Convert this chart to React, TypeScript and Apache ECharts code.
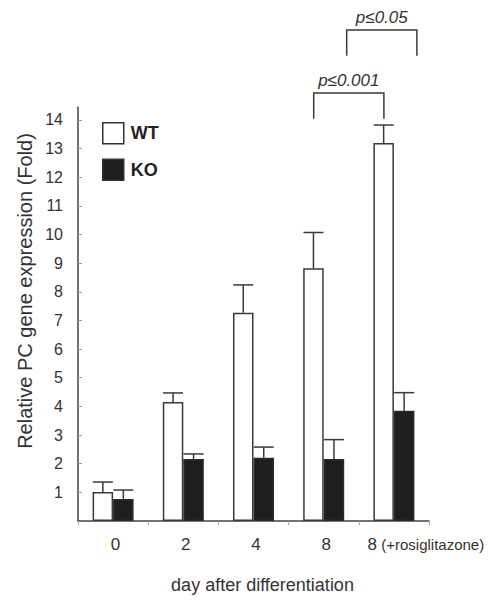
import React, { useEffect, useRef } from "react";
import * as echarts from "echarts";

const categories = ["0", "2", "4", "8", "8 (+rosiglitazone)"];
const wtValues = [1.01, 4.15, 7.27, 8.82, 13.19];
const wtErrors = [0.35, 0.32, 0.97, 1.25, 0.63];
const koValues = [0.77, 2.16, 2.21, 2.16, 3.85];
const koErrors = [0.31, 0.18, 0.37, 0.68, 0.63];
const yTickValues = [1, 2, 3, 4, 5, 6, 7, 8, 9, 10, 11, 12, 13, 14];
const bracketLabels = ["p≤0.001", "p≤0.05"];
const bracketFrom = [3, 3];
const bracketTo = [4, 4];
const bracketLegLow = [14.04, 16.24];
const bracketTop = [14.94, 17.14];

const FONT = "Liberation Sans, Arial, sans-serif";
const INK = "#333333";
const BAR_W = 20.5;
const BRACKET_SHIFT = [-10, 23];

export default function App() {
  const ref = useRef<HTMLDivElement>(null);
  useEffect(() => {
    if (!ref.current) return;
    const chart = echarts.init(ref.current, undefined, { renderer: "svg" });

    const errRender = (offset: number) => (params: any, api: any) => {
      const i = api.value(0);
      const v = api.value(1);
      const e = api.value(2);
      const base = api.coord([i, v]);
      const top = api.coord([i, v + e]);
      const cx = base[0] + offset;
      const style = { stroke: "#3a3a3a", lineWidth: 1.5 };
      return {
        type: "group",
        children: [
          { type: "line", shape: { x1: cx, y1: base[1], x2: cx, y2: top[1] }, style },
          { type: "line", shape: { x1: cx - 10, y1: top[1], x2: cx + 10, y2: top[1] }, style },
        ],
      };
    };

    const bracketData = bracketLabels.map((_, k) => [
      bracketFrom[k],
      bracketTo[k],
      bracketLegLow[k],
      bracketTop[k],
      k,
    ]);

    const option: any = {
      animation: false,
      backgroundColor: "#ffffff",
      textStyle: { fontFamily: FONT },
      grid: { left: 78, right: 71, top: 107, bottom: 79, containLabel: false, outerBoundsMode: "none" },
      legend: {
        data: ["WT", "KO"],
        orient: "vertical",
        left: 97,
        top: 117,
        itemWidth: 21,
        itemHeight: 21,
        itemGap: 14,
        icon: "rect",
        selectedMode: false,
        itemStyle: { borderColor: "#333", borderWidth: 1.5 },
        textStyle: { fontFamily: FONT, fontSize: 18, fontWeight: "bold", color: "#222", padding: [0, 0, 0, 2] },
      },
      xAxis: {
        type: "category",
        data: categories,
        axisLine: { lineStyle: { color: "#444", width: 1.5 } },
        axisTick: { show: true, length: 4, lineStyle: { color: "#aaa" } },
        axisLabel: {
          margin: 15,
          color: INK,
          fontSize: 17,
          fontFamily: FONT,
          interval: 0,
          formatter: (v: string) =>
            v.indexOf("(") >= 0
              ? "{q|}{a|" + v.split(" ")[0] + "}{b| " + v.substring(v.indexOf("(")) + "}"
              : "{p|}{a|" + v + "}",
          rich: {
            a: { fontSize: 17, fontFamily: FONT, color: INK },
            b: { fontSize: 15, fontFamily: FONT, color: INK },
            p: { width: 5 },
            q: { width: 64 },
          },
        },
        name: "day after differentiation",
        nameLocation: "middle",
        nameGap: 55,
        nameTextStyle: { fontSize: 18, color: INK, fontFamily: FONT, padding: [0, 0, 0, 18] },
      },
      yAxis: {
        type: "value",
        min: 0,
        max: 14.45,
        interval: 1,
        splitLine: { show: false },
        axisLine: { show: true, lineStyle: { color: "#444", width: 1.5 } },
        axisTick: { show: true, inside: true, length: 4, lineStyle: { color: "#999" }, customValues: yTickValues },
        axisLabel: {
          margin: 15,
          color: INK,
          fontSize: 16,
          fontFamily: FONT,
          customValues: yTickValues,
          formatter: (v: number) => (v === 0 || v > 14 ? "" : String(v)),
        },
      },
      graphic: [
        {
          type: "text",
          x: 25,
          y: 291,
          rotation: Math.PI / 2,
          style: {
            text: "Relative PC gene expression (Fold)",
            font: "20px " + FONT,
            fill: INK,
            textAlign: "center",
            textVerticalAlign: "middle",
          },
        },
      ],
      series: [
        {
          name: "WT",
          type: "bar",
          data: wtValues,
          barWidth: BAR_W,
          barGap: "0%",
          itemStyle: { color: "#ffffff", borderColor: "#3a3a3a", borderWidth: 1.5 },
        },
        {
          name: "KO",
          type: "bar",
          data: koValues,
          barWidth: BAR_W,
          barGap: "0%",
          itemStyle: { color: "#1e1e1e", borderColor: "#2a2a2a", borderWidth: 1.5 },
        },
        {
          name: "WT error",
          type: "custom",
          clip: false,
          z: 3,
          renderItem: errRender(-BAR_W / 2),
          data: wtValues.map((v, i) => [i, v, wtErrors[i]]),
          encode: { x: 0, y: 1 },
        },
        {
          name: "KO error",
          type: "custom",
          clip: false,
          z: 3,
          renderItem: errRender(BAR_W / 2),
          data: koValues.map((v, i) => [i, v, koErrors[i]]),
          encode: { x: 0, y: 1 },
        },
        {
          name: "brackets",
          type: "custom",
          clip: false,
          z: 4,
          renderItem: (params: any, api: any) => {
            const k = api.value(4);
            const shift = BRACKET_SHIFT[k];
            const a = api.coord([api.value(0), api.value(2)]);
            const b = api.coord([api.value(1), api.value(2)]);
            const t = api.coord([api.value(0), api.value(3)]);
            const x1 = a[0] + shift;
            const x2 = b[0] + shift;
            const style = { stroke: "#3a3a3a", lineWidth: 1.5, fill: "none" };
            return {
              type: "group",
              children: [
                {
                  type: "polyline",
                  shape: { points: [[x1, a[1]], [x1, t[1]], [x2, t[1]], [x2, b[1]]] },
                  style,
                },
                {
                  type: "text",
                  x: (x1 + x2) / 2,
                  y: t[1] - 4,
                  style: {
                    text: bracketLabels[k],
                    font: "italic 17px " + FONT,
                    fill: INK,
                    textAlign: "center",
                    textVerticalAlign: "bottom",
                  },
                },
              ],
            };
          },
          data: bracketData,
          encode: { x: 0, y: 2 },
        },
      ],
    };
    chart.setOption(option);
    return () => chart.dispose();
  }, []);
  return (
    <div
      ref={ref}
      style={{ position: "fixed", left: 0, top: 0, width: 500, height: 600, background: "#fff" }}
    />
  );
}
